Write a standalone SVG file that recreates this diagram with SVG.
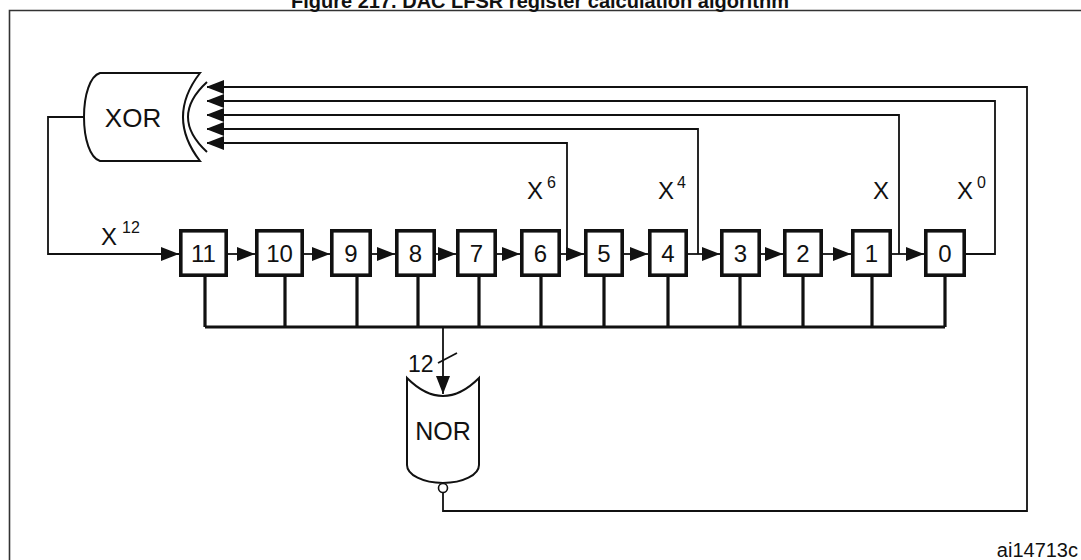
<svg xmlns="http://www.w3.org/2000/svg" width="1081" height="560" viewBox="0 0 1081 560">
<style>
text{font-family:"Liberation Sans",Arial,sans-serif;fill:#111}
.ln{fill:none;stroke:#111;stroke-width:1.8}
.bus{fill:none;stroke:#111;stroke-width:3.2}
.box{fill:#fff;stroke:#111;stroke-width:3.6}
.gate{fill:#fff;stroke:#111;stroke-width:2}
.num{font-size:24px;text-anchor:middle}
.lab{font-size:24px}
.sup{font-size:16px}
</style>
<defs>
<marker id="ah" viewBox="0 0 18 14" refX="18" refY="7" markerWidth="18" markerHeight="14" orient="auto" markerUnits="userSpaceOnUse">
<path d="M0,0 L18,7 L0,14 z" fill="#111"/>
</marker>
</defs>
<rect width="1081" height="560" fill="#fff"/>
<g id="frame">
<path d="M1081,10.5 H9.5 V560" fill="none" stroke="#333" stroke-width="1.6"/>
<text x="540" y="8" font-size="20" font-weight="bold" text-anchor="middle">Figure 217. DAC LFSR register calculation algorithm</text>
</g>
<g id="connectors">
<path class="ln" d="M84,117 H48 V254 H179" marker-end="url(#ah)"/>
<path class="ln" d="M228,254 H255" marker-end="url(#ah)"/>
<path class="ln" d="M304,254 H330" marker-end="url(#ah)"/>
<path class="ln" d="M372,254 H395" marker-end="url(#ah)"/>
<path class="ln" d="M436,254 H456" marker-end="url(#ah)"/>
<path class="ln" d="M497,254 H520" marker-end="url(#ah)"/>
<path class="ln" d="M561,254 H584" marker-end="url(#ah)"/>
<path class="ln" d="M624,254 H648" marker-end="url(#ah)"/>
<path class="ln" d="M688,254 H720" marker-end="url(#ah)"/>
<path class="ln" d="M761,254 H783" marker-end="url(#ah)"/>
<path class="ln" d="M823,254 H851" marker-end="url(#ah)"/>
<path class="ln" d="M892,254 H924" marker-end="url(#ah)"/>
<path class="ln" d="M567,254 V143 H206" marker-end="url(#ah)"/>
<path class="ln" d="M698,254 V129 H206" marker-end="url(#ah)"/>
<path class="ln" d="M899,254 V115 H206" marker-end="url(#ah)"/>
<path class="ln" d="M966,254 H995 V101 H206" marker-end="url(#ah)"/>
<path class="ln" d="M443,492.5 V511 H1027 V87 H206" marker-end="url(#ah)"/>
<path class="bus" d="M205,277 V327 M285,277 V327 M357,277 V327 M418,277 V327 M479,277 V327 M541,277 V327 M604,277 V327 M668,277 V327 M740,277 V327 M803,277 V327 M872,277 V327 M945,277 V327 M205,327 H945"/>
<path class="ln" d="M443,327 V394" marker-end="url(#ah)"/>
<path class="ln" d="M438,363 L457,353"/>
<text x="408" y="372" font-size="23">12</text>
</g>
<g id="xor">
<path class="gate" d="M200,73 H100 C90,76 84,95 84,117 C84,139 90,158 100,161 H200 Q166,117 200,73 Z"/>
<path class="gate" fill="none" d="M207,82 Q169,117 207,152"/>
<text x="133" y="127" font-size="26" text-anchor="middle">XOR</text>
</g>
<g id="nor">
<path class="gate" d="M407,378 Q443,414 479,378 V465 A36,18 0 0 1 407,465 Z"/>
<circle cx="443" cy="488" r="4.5" fill="#fff" stroke="#111" stroke-width="1.6"/>
<text x="443" y="440" font-size="25" text-anchor="middle">NOR</text>
</g>
<g id="reg11"><rect class="box" x="180.8" y="230.8" width="45.4" height="44.4"/><text class="num" x="203.5" y="262">11</text></g>
<g id="reg10"><rect class="box" x="256.8" y="230.8" width="45.4" height="44.4"/><text class="num" x="279.5" y="262">10</text></g>
<g id="reg9"><rect class="box" x="331.8" y="230.8" width="38.4" height="44.4"/><text class="num" x="351" y="262">9</text></g>
<g id="reg8"><rect class="box" x="396.8" y="230.8" width="37.4" height="44.4"/><text class="num" x="415.5" y="262">8</text></g>
<g id="reg7"><rect class="box" x="457.8" y="230.8" width="37.4" height="44.4"/><text class="num" x="476.5" y="262">7</text></g>
<g id="reg6"><rect class="box" x="521.8" y="230.8" width="37.4" height="44.4"/><text class="num" x="540.5" y="262">6</text></g>
<g id="reg5"><rect class="box" x="585.8" y="230.8" width="36.4" height="44.4"/><text class="num" x="604" y="262">5</text></g>
<g id="reg4"><rect class="box" x="649.8" y="230.8" width="36.4" height="44.4"/><text class="num" x="668" y="262">4</text></g>
<g id="reg3"><rect class="box" x="721.8" y="230.8" width="37.4" height="44.4"/><text class="num" x="740.5" y="262">3</text></g>
<g id="reg2"><rect class="box" x="784.8" y="230.8" width="36.4" height="44.4"/><text class="num" x="803" y="262">2</text></g>
<g id="reg1"><rect class="box" x="852.8" y="230.8" width="37.4" height="44.4"/><text class="num" x="871.5" y="262">1</text></g>
<g id="reg0"><rect class="box" x="925.8" y="230.8" width="38.4" height="44.4"/><text class="num" x="945" y="262">0</text></g>
<g id="labels">
<text class="lab" x="101" y="245" font-size="23">X</text><text class="sup" x="122" y="233">12</text>
<text class="lab" x="527" y="199">X</text><text class="sup" x="547" y="188">6</text>
<text class="lab" x="658" y="199">X</text><text class="sup" x="677" y="188">4</text>
<text class="lab" x="873" y="199">X</text>
<text class="lab" x="957" y="199">X</text><text class="sup" x="977" y="188">0</text>
<text x="1078" y="557" font-size="20" text-anchor="end">ai14713c</text>
</g>
</svg>
